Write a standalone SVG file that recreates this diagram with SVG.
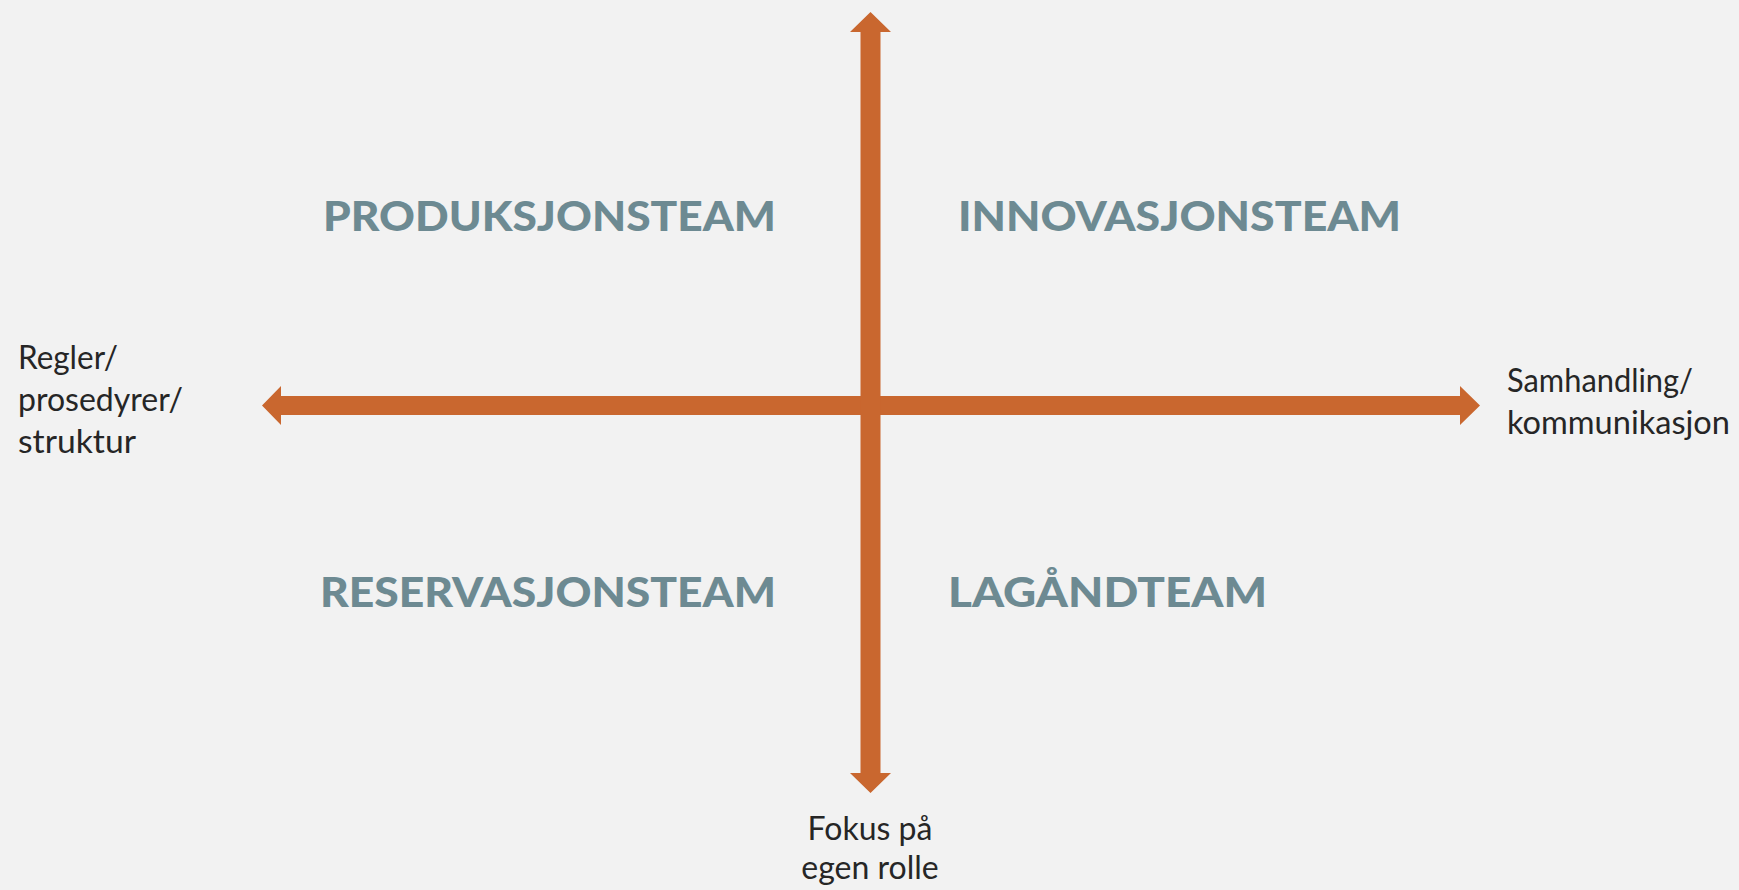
<svg xmlns="http://www.w3.org/2000/svg" width="1739" height="890" viewBox="0 0 1739 890">
<style>
.bg{fill:#F2F2F2}
.arrow{fill:#C9672F}
.title{font-family:"Lato","Liberation Sans",sans-serif;font-weight:900;font-size:41px;fill:#6D8A92}
.label{font-family:"Lato","Liberation Sans",sans-serif;font-size:32px;fill:#262626}
</style>
<rect class="bg" x="0" y="0" width="1739" height="890"/>
<g id="connectors">
<polygon class="arrow" points="262,405.5 281,386 281,396 1460,396 1460,386 1480,405.5 1460,425 1460,415 281,415 281,425"/>
<polygon class="arrow" points="870.5,12 891,32 880.5,32 880.5,773 891,773 870.5,793 850,773 860.5,773 860.5,32 850,32"/>
</g>
<g id="produksjonsteam"><text class="title" x="323" y="231" textLength="453" lengthAdjust="spacingAndGlyphs">PRODUKSJONSTEAM</text></g>
<g id="innovasjonsteam"><text class="title" x="958" y="231" textLength="443" lengthAdjust="spacingAndGlyphs">INNOVASJONSTEAM</text></g>
<g id="reservasjonsteam"><text class="title" x="320" y="607" textLength="456" lengthAdjust="spacingAndGlyphs">RESERVASJONSTEAM</text></g>
<g id="lagandteam"><text class="title" x="948" y="607" textLength="319" lengthAdjust="spacingAndGlyphs">LAGÅNDTEAM</text></g>
<g id="left-label">
<text class="label" x="18" y="369" textLength="100" lengthAdjust="spacingAndGlyphs">Regler/</text>
<text class="label" x="18" y="411" textLength="165" lengthAdjust="spacingAndGlyphs">prosedyrer/</text>
<text class="label" x="18" y="453" textLength="118" lengthAdjust="spacingAndGlyphs">struktur</text>
</g>
<g id="right-label">
<text class="label" x="1507" y="392" textLength="186" lengthAdjust="spacingAndGlyphs">Samhandling/</text>
<text class="label" x="1507" y="434" textLength="223" lengthAdjust="spacingAndGlyphs">kommunikasjon</text>
</g>
<g id="bottom-label">
<text class="label" x="870" y="840" text-anchor="middle">Fokus på</text>
<text class="label" x="870" y="879" text-anchor="middle">egen rolle</text>
</g>
</svg>
